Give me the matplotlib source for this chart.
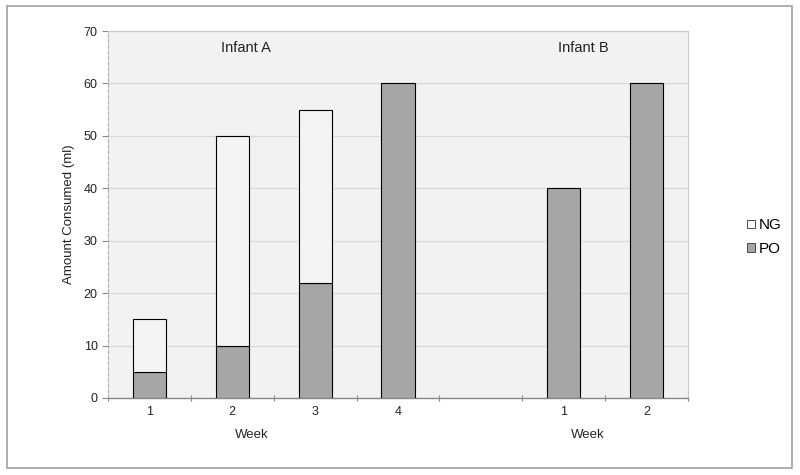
import matplotlib
matplotlib.use("Agg")
import matplotlib.pyplot as plt
from matplotlib.patches import Rectangle, Patch

plt.rcParams['font.family'] = ['Liberation Sans', 'DejaVu Sans']

categories = ["1", "2", "3", "4", "", "1", "2"]
po_values = [5, 10, 22, 60, 0, 40, 60]
ng_values = [10, 40, 33, 0, 0, 0, 0]
group_labels = ["Infant A", "Infant B"]
y_ticks = [0, 10, 20, 30, 40, 50, 60, 70]

fig = plt.figure(figsize=(8, 4.75), dpi=100)
ax = fig.add_axes([108/800, 1-398/475, (688-108)/800, (398-31)/475])

# outer border
fig.patches.append(Rectangle((7/800, 1-468/475), (792-7)/800, (468-6)/475,
                             transform=fig.transFigure, fill=False,
                             edgecolor='#a0a0a0', linewidth=1.2))

ax.set_facecolor('#f2f2f2')
x = list(range(len(categories)))
ax.bar(x, po_values, width=0.4, color='#a6a6a6', edgecolor='black', linewidth=0.8, zorder=3)
ax.bar(x, ng_values, width=0.4, bottom=po_values, color='#f4f4f4', edgecolor='black',
       linewidth=0.8, zorder=3)
# hide empty bars
for p in ax.patches:
    if p.get_height() == 0:
        p.set_visible(False)

ax.set_xlim(-0.5, len(categories) - 0.5)
ax.set_ylim(0, 70)
ax.set_yticks(y_ticks)
ax.set_xticks(x)
ax.set_xticklabels(categories, fontsize=9, color='#222222')
ax.tick_params(axis='y', labelsize=9, colors='#222222', length=4, color='#888888', width=0.8)
ax.tick_params(axis='x', length=0, pad=6)
# minor ticks at slot boundaries
ax.set_xticks([i - 0.5 for i in range(len(categories) + 1)], minor=True)
ax.tick_params(axis='x', which='minor', length=4, color='#888888', width=0.8, direction='inout')

ax.yaxis.grid(True, color='#d8d8d8', linewidth=0.9, zorder=0)
ax.set_axisbelow(True)

ax.spines['left'].set_color('#b0b0b0')
ax.spines['left'].set_linestyle((0, (3, 2)))
ax.spines['left'].set_linewidth(0.8)
ax.spines['bottom'].set_color('#888888')
ax.spines['bottom'].set_linewidth(1.0)
ax.spines['top'].set_color('#c8c8c8')
ax.spines['right'].set_color('#c8c8c8')

ax.set_ylabel("Amount Consumed (ml)", fontsize=9.5, color='#222222', labelpad=6)

ax.text(1.17, 66.8, group_labels[0], ha='center', va='center', fontsize=10.5, color='#222222')
ax.text(5.24, 66.8, group_labels[1], ha='center', va='center', fontsize=10.5, color='#222222')
ax.text(1.24, -0.1, "Week", transform=ax.get_xaxis_transform(), ha='center', va='center',
        fontsize=9.5, color='#222222')
ax.text(5.29, -0.1, "Week", transform=ax.get_xaxis_transform(), ha='center', va='center',
        fontsize=9.5, color='#222222')

handles = [Patch(facecolor='#f8f8f8', edgecolor='#333333', linewidth=0.6, label='NG'),
           Patch(facecolor='#a6a6a6', edgecolor='#333333', linewidth=0.6, label='PO')]
fig.legend(handles=handles, loc='center', bbox_to_anchor=(764/800, 1-237/475),
           frameon=False, fontsize=11, handlelength=0.5, handleheight=0.5,
           handletextpad=0.25, labelspacing=0.6, borderaxespad=0)

fig.savefig("out.png", dpi=100)
